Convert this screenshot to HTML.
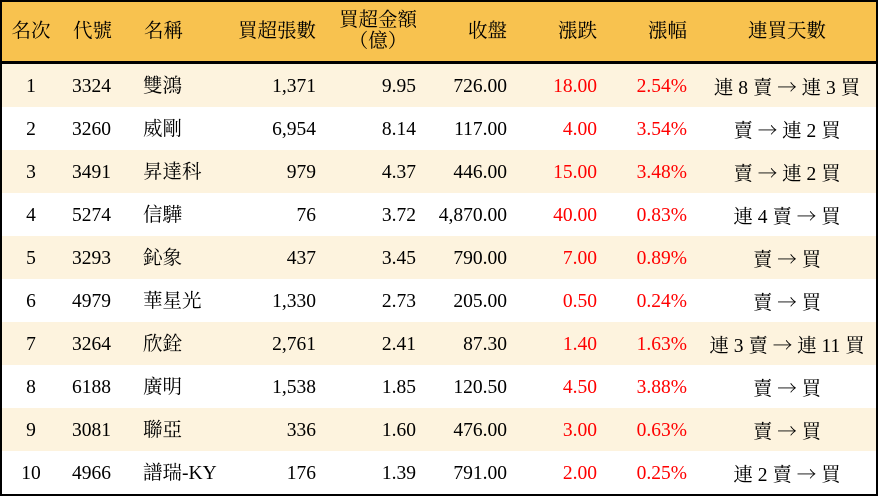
<!DOCTYPE html>
<html>
<head>
<meta charset="utf-8">
<style>
html,body{margin:0;padding:0;background:#fff;}
#t{position:relative;width:878px;height:496px;overflow:hidden;background:#fff;
font-family:"Liberation Serif","Noto Serif CJK SC","Noto Serif CJK TC",serif;font-size:19.5px;color:#000;}
.b{position:absolute;background:#000;}
.hd{position:absolute;left:0;top:0;width:878px;height:62px;background:#F8C24F;}
.row{position:absolute;left:0;width:878px;height:43px;line-height:43px;}
.odd{background:#FDF3DE;}
.c{position:absolute;top:1px;white-space:nowrap;}
.c1{left:0;width:62px;text-align:center;}
.c2{left:72px;}
.c3{left:143px;}
.c4{left:200px;width:116px;text-align:right;}
.c5{left:320px;width:96px;text-align:right;}
.c6{left:420px;width:87px;text-align:right;}
.c7{left:510px;width:87px;text-align:right;}
.c8{left:600px;width:87px;text-align:right;}
.c9{left:690px;width:194px;text-align:center;}
.r{color:#FF0000;}
.a{font-family:"Noto Serif CJK SC","Noto Sans CJK SC",serif;}
.hrow{position:absolute;left:0;top:2px;width:878px;height:59px;line-height:59px;}
.hrow .c{top:0;}
</style>
</head>
<body>
<div id="t">
<div class="hd"></div>
<div class="hrow">
<div class="c c1">名次</div>
<div class="c" style="left:73px;">代號</div>
<div class="c" style="left:144px;">名稱</div>
<div class="c c4">買超張數</div>
<div class="c" style="left:330px;width:96px;text-align:center;line-height:21px;top:8px;">買超金額<br>（億）</div>
<div class="c c6">收盤</div>
<div class="c c7">漲跌</div>
<div class="c c8">漲幅</div>
<div class="c c9">連買天數</div>
</div>

<div class="row odd" style="top:64px;"><div class="c c1">1</div><div class="c c2">3324</div><div class="c c3">雙鴻</div><div class="c c4">1,371</div><div class="c c5">9.95</div><div class="c c6">726.00</div><div class="c c7 r">18.00</div><div class="c c8 r">2.54%</div><div class="c c9">連 8 賣 <span class="a">→</span> 連 3 買</div></div>
<div class="row" style="top:107px;"><div class="c c1">2</div><div class="c c2">3260</div><div class="c c3">威剛</div><div class="c c4">6,954</div><div class="c c5">8.14</div><div class="c c6">117.00</div><div class="c c7 r">4.00</div><div class="c c8 r">3.54%</div><div class="c c9">賣 <span class="a">→</span> 連 2 買</div></div>
<div class="row odd" style="top:150px;"><div class="c c1">3</div><div class="c c2">3491</div><div class="c c3">昇達科</div><div class="c c4">979</div><div class="c c5">4.37</div><div class="c c6">446.00</div><div class="c c7 r">15.00</div><div class="c c8 r">3.48%</div><div class="c c9">賣 <span class="a">→</span> 連 2 買</div></div>
<div class="row" style="top:193px;"><div class="c c1">4</div><div class="c c2">5274</div><div class="c c3">信驊</div><div class="c c4">76</div><div class="c c5">3.72</div><div class="c c6">4,870.00</div><div class="c c7 r">40.00</div><div class="c c8 r">0.83%</div><div class="c c9">連 4 賣 <span class="a">→</span> 買</div></div>
<div class="row odd" style="top:236px;"><div class="c c1">5</div><div class="c c2">3293</div><div class="c c3">鈊象</div><div class="c c4">437</div><div class="c c5">3.45</div><div class="c c6">790.00</div><div class="c c7 r">7.00</div><div class="c c8 r">0.89%</div><div class="c c9">賣 <span class="a">→</span> 買</div></div>
<div class="row" style="top:279px;"><div class="c c1">6</div><div class="c c2">4979</div><div class="c c3">華星光</div><div class="c c4">1,330</div><div class="c c5">2.73</div><div class="c c6">205.00</div><div class="c c7 r">0.50</div><div class="c c8 r">0.24%</div><div class="c c9">賣 <span class="a">→</span> 買</div></div>
<div class="row odd" style="top:322px;"><div class="c c1">7</div><div class="c c2">3264</div><div class="c c3">欣銓</div><div class="c c4">2,761</div><div class="c c5">2.41</div><div class="c c6">87.30</div><div class="c c7 r">1.40</div><div class="c c8 r">1.63%</div><div class="c c9">連 3 賣 <span class="a">→</span> 連 11 買</div></div>
<div class="row" style="top:365px;"><div class="c c1">8</div><div class="c c2">6188</div><div class="c c3">廣明</div><div class="c c4">1,538</div><div class="c c5">1.85</div><div class="c c6">120.50</div><div class="c c7 r">4.50</div><div class="c c8 r">3.88%</div><div class="c c9">賣 <span class="a">→</span> 買</div></div>
<div class="row odd" style="top:408px;"><div class="c c1">9</div><div class="c c2">3081</div><div class="c c3">聯亞</div><div class="c c4">336</div><div class="c c5">1.60</div><div class="c c6">476.00</div><div class="c c7 r">3.00</div><div class="c c8 r">0.63%</div><div class="c c9">賣 <span class="a">→</span> 買</div></div>
<div class="row" style="top:451px;"><div class="c c1">10</div><div class="c c2">4966</div><div class="c c3">譜瑞-KY</div><div class="c c4">176</div><div class="c c5">1.39</div><div class="c c6">791.00</div><div class="c c7 r">2.00</div><div class="c c8 r">0.25%</div><div class="c c9">連 2 賣 <span class="a">→</span> 買</div></div>

<div class="b" style="left:0;top:61px;width:878px;height:3px;"></div>
<div class="b" style="left:0;top:0;width:878px;height:2px;"></div>
<div class="b" style="left:0;top:494px;width:878px;height:2px;"></div>
<div class="b" style="left:0;top:0;width:2px;height:496px;"></div>
<div class="b" style="left:876px;top:0;width:2px;height:496px;"></div>
</div>
</body>
</html>
